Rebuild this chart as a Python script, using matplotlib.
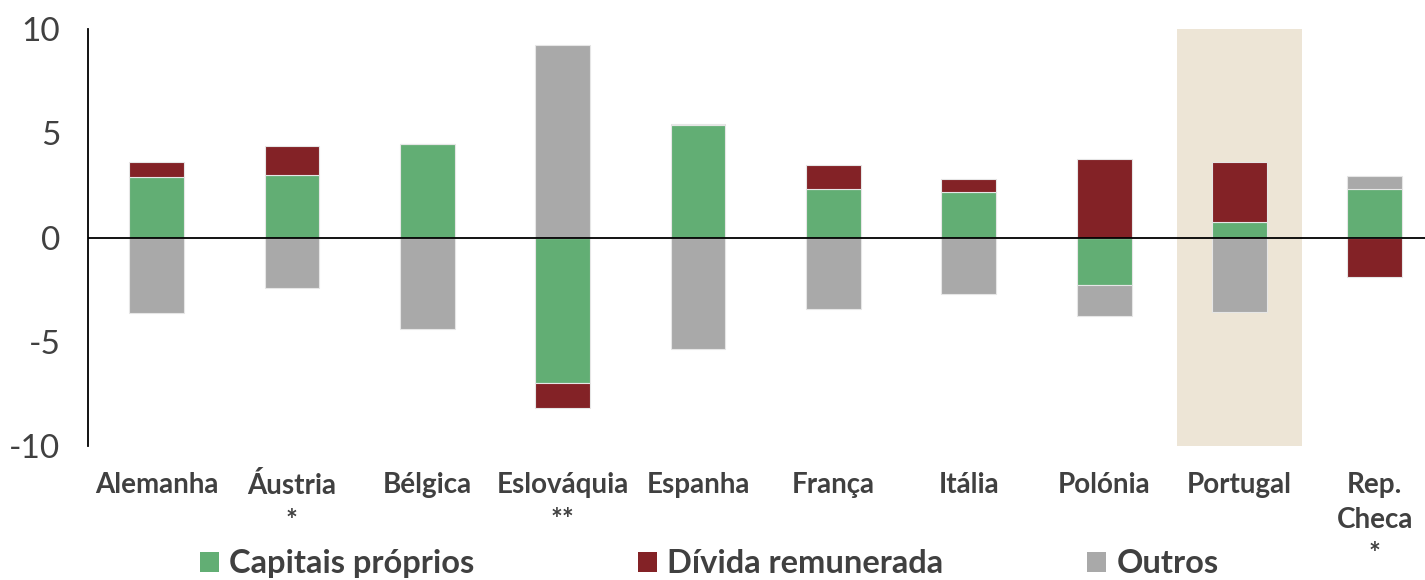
import numpy as np
import matplotlib.pyplot as plt
from matplotlib.patches import Patch

plt.rcParams['font.family'] = ['Lato', 'DejaVu Sans']

# Data
paises = ['Alemanha', 'Áustria\n*', 'Bélgica', 'Eslováquia\n**', 'Espanha',
          'França', 'Itália', 'Polónia', 'Portugal', 'Rep.\nCheca\n*']
capitais = [2.92, 3.00, 4.47, -6.99, 5.38, 2.33, 2.17, -2.30, 0.73, 2.34]
divida = [0.69, 1.39, 0.00, -1.20, 0.08, 1.15, 0.62, 3.75, 2.88, -1.89]
outros = [-3.61, -2.44, -4.39, 9.22, -5.36, -3.45, -2.73, -1.47, -3.59, 0.61]

series = [('Capitais próprios', capitais, '#62ae74'),
          ('Dívida remunerada', divida, '#832226'),
          ('Outros', outros, '#a9a9a9')]

txt = '#404040'

fig = plt.figure(figsize=(14.25, 5.8), dpi=100)
ax = fig.add_axes([0.0618, 0.231, 0.9382, 0.719])

x = np.arange(len(paises))

# highlight Portugal
ax.axvspan(8 - 0.465, 8 + 0.465, color='#ede5d6', zorder=0, lw=0)

# stacked bars, positives and negatives stacked separately
pos_base = np.zeros(len(paises))
neg_base = np.zeros(len(paises))
for nome, vals, cor in series:
    vals = np.array(vals)
    base = np.where(vals >= 0, pos_base, neg_base)
    ax.bar(x, vals, bottom=base, width=0.405, color=cor, label=nome,
           edgecolor='#e6e6e6', linewidth=0.8, zorder=2)
    pos_base += np.clip(vals, 0, None)
    neg_base += np.clip(vals, None, 0)

ax.axhline(0, color='black', lw=1.3, zorder=3)

ax.set_ylim(-10, 10)
ax.set_xlim(-0.506, 9.37)
ax.set_yticks([-10, -5, 0, 5, 10])
ax.set_yticklabels(['-10', '-5', '0', '5', '10'], fontsize=24, color=txt)
ax.tick_params(axis='y', length=0, pad=20)

ax.set_xticks(x)
ax.set_xticklabels(paises, fontsize=20, fontweight='bold', color=txt,
                   linespacing=1.4)
ax.tick_params(axis='x', length=0, pad=19)

for s in ['top', 'right', 'bottom']:
    ax.spines[s].set_visible(False)
ax.spines['left'].set_linewidth(1.3)

# legend entries placed at fixed slots along the bottom
leg_x = [200, 638, 1087]
for (nome, _, cor), lx in zip(series, leg_x):
    leg = fig.legend(handles=[Patch(facecolor=cor, edgecolor='none', label=nome)],
                     loc='center left', bbox_to_anchor=(lx / 1425, 0.028),
                     frameon=False, fontsize=23.5, handlelength=0.58,
                     handleheight=0.58, handletextpad=0.32, borderpad=0,
                     borderaxespad=0)
    for t in leg.get_texts():
        t.set_fontweight('bold')
        t.set_color(txt)

fig.savefig('out.png', dpi=100)
